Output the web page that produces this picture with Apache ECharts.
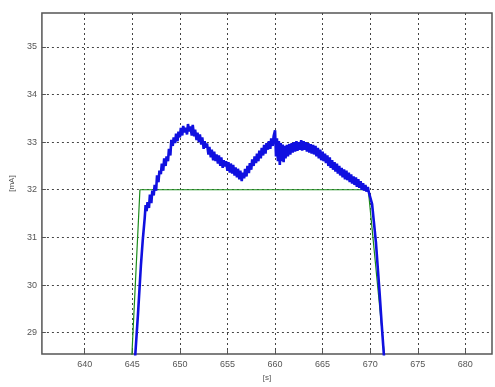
<!DOCTYPE html>
<html>
<head>
<meta charset="utf-8">
<script src="https://cdn.jsdelivr.net/npm/echarts@6/dist/echarts.min.js"></script>
<style>
html,body{margin:0;padding:0;background:#fff;}
#c{width:495px;height:387px;}
</style>
</head>
<body>
<div id="c"></div>
<script>
var xTicks = [640, 645, 650, 655, 660, 665, 670, 675, 680];
var yTicks = [29, 30, 31, 32, 33, 34, 35];
var xRange = [635.5, 682.8];
var yRange = [28.55, 35.71];

var greenLine = [[644.9, 28.3], [645.8, 32.0], [669.8, 32.0], [671.6, 28.3]];

var blueLine = [
[645.3, 28.5], [645.6, 29.4], [645.9, 30.4], [646.1, 30.95], [646.3, 31.4],
[646.4, 31.68], [646.5, 31.55], [646.6, 31.74], [646.75, 31.62], [646.85, 31.9], [647.0, 31.72], [647.1, 31.98], [647.25, 31.88],
[647.35, 32.1], [647.5, 31.98], [647.6, 32.3], [647.75, 32.16], [647.85, 32.4], [648.0, 32.33], [648.1, 32.55], [648.25, 32.4],
[648.35, 32.66], [648.5, 32.5], [648.6, 32.7], [648.75, 32.6], [648.85, 32.86], [649.0, 32.72], [649.1, 33.05], [649.25, 32.92],
[649.35, 33.1], [649.5, 32.98], [649.6, 33.18], [649.75, 33.02], [649.85, 33.22], [650.0, 33.1], [650.1, 33.3], [650.25, 33.14],
[650.35, 33.34], [650.5, 33.2], [650.6, 33.3], [650.75, 33.16], [650.85, 33.38], [651.0, 33.22], [651.1, 33.33], [651.25, 33.14],
[651.35, 33.36], [651.5, 33.12], [651.6, 33.26], [651.75, 33.04], [651.85, 33.2], [652.0, 33.0], [652.1, 33.16], [652.25, 32.95],
[652.35, 33.1], [652.5, 32.86], [652.6, 33.02], [652.75, 32.88], [652.85, 32.97], [653.0, 32.74], [653.1, 32.9], [653.25, 32.68],
[653.35, 32.84], [653.5, 32.62], [653.6, 32.8], [653.75, 32.6], [653.85, 32.74], [654.0, 32.55], [654.1, 32.72], [654.25, 32.5],
[654.35, 32.68], [654.5, 32.46], [654.6, 32.62], [654.75, 32.49], [654.85, 32.6], [655.0, 32.4], [655.1, 32.58], [655.25, 32.36],
[655.35, 32.55], [655.5, 32.34], [655.6, 32.52], [655.75, 32.3], [655.85, 32.47], [656.0, 32.26], [656.1, 32.44], [656.25, 32.22],
[656.35, 32.4], [656.5, 32.18], [656.6, 32.36], [656.75, 32.24], [656.85, 32.44], [657.0, 32.28], [657.1, 32.5], [657.25, 32.35],
[657.35, 32.56], [657.5, 32.42], [657.6, 32.64], [657.75, 32.5], [657.85, 32.7], [658.0, 32.56], [658.1, 32.76], [658.25, 32.6],
[658.35, 32.82], [658.5, 32.66], [658.6, 32.88], [658.75, 32.72], [658.85, 32.94], [659.0, 32.76], [659.1, 32.98], [659.25, 32.84],
[659.35, 33.02], [659.5, 32.86], [659.6, 33.08], [659.75, 32.92], [659.85, 33.12], [660.0, 33.25], [660.1, 32.7], [660.2, 33.08],
[660.3, 32.6], [660.4, 33.02], [660.5, 32.52], [660.6, 32.98], [660.7, 32.6], [660.8, 32.95], [660.9, 32.58], [661.0, 32.92],
[661.1, 32.66], [661.25, 32.94], [661.35, 32.7], [661.5, 32.96], [661.6, 32.74], [661.75, 32.98], [661.85, 32.78], [662.0, 33.0],
[662.1, 32.8], [662.25, 33.02], [662.35, 32.82], [662.5, 33.0], [662.6, 32.84], [662.75, 33.04], [662.85, 32.82], [663.0, 33.02],
[663.1, 32.84], [663.25, 33.0], [663.35, 32.8], [663.5, 32.98], [663.6, 32.78], [663.75, 32.96], [663.85, 32.76], [664.0, 32.94],
[664.1, 32.74], [664.25, 32.92], [664.35, 32.7], [664.5, 32.88], [664.6, 32.66], [664.75, 32.84], [664.85, 32.62], [665.0, 32.8],
[665.1, 32.6], [665.25, 32.76], [665.35, 32.56], [665.5, 32.72], [665.6, 32.5], [665.75, 32.68], [665.85, 32.46], [666.0, 32.62],
[666.1, 32.42], [666.25, 32.58], [666.35, 32.38], [666.5, 32.55], [666.6, 32.34], [666.75, 32.5], [666.85, 32.3], [667.0, 32.46],
[667.1, 32.26], [667.25, 32.43], [667.35, 32.22], [667.5, 32.4], [667.6, 32.2], [667.75, 32.36], [667.85, 32.16], [668.0, 32.32],
[668.1, 32.13], [668.25, 32.28], [668.35, 32.1], [668.5, 32.26], [668.6, 32.06], [668.75, 32.22], [668.85, 32.04], [669.0, 32.18],
[669.1, 32.0], [669.25, 32.14], [669.35, 31.98], [669.5, 32.1], [669.6, 31.96], [669.75, 32.06], [669.85, 31.95], [670.0, 31.96],
[670.2, 31.7], [670.4, 31.3], [670.6, 30.9], [670.8, 30.35], [671.0, 29.8], [671.2, 29.2], [671.45, 28.5]
];

var chart = echarts.init(document.getElementById('c'), null, {renderer: 'canvas'});
var gridLineStyle = {color: '#444', type: [2, 3], width: 1};
var labelStyle = {color: '#555', fontSize: 9, fontFamily: 'Liberation Sans'};
chart.setOption({
  animation: false,
  backgroundColor: '#fff',
  grid: {left: 36, top: 13, right: 3, bottom: 24, show: true, borderColor: '#555', borderWidth: 1.5, backgroundColor: '#fff'},
  xAxis: {
    type: 'value', min: xRange[0], max: xRange[1],
    name: '[s]', nameLocation: 'middle', nameGap: 14,
    nameTextStyle: {color: '#555', fontSize: 8, fontFamily: 'Liberation Sans'},
    axisLine: {show: false},
    axisTick: {show: true, inside: true, length: 4, customValues: xTicks, lineStyle: {color: '#555'}},
    axisLabel: {customValues: xTicks, margin: 6, ...labelStyle},
    splitLine: {show: true, lineStyle: gridLineStyle}
  },
  yAxis: {
    type: 'value', min: yRange[0], max: yRange[1],
    name: '[mA]', nameLocation: 'middle', nameGap: 22, nameRotate: 90,
    nameTextStyle: {color: '#555', fontSize: 8, fontFamily: 'Liberation Sans'},
    axisLine: {show: false},
    axisTick: {show: true, inside: true, length: 4, customValues: yTicks, lineStyle: {color: '#555'}},
    axisLabel: {customValues: yTicks, margin: 5, ...labelStyle},
    splitLine: {show: true, lineStyle: gridLineStyle}
  },
  series: [
    {type: 'line', data: greenLine, showSymbol: false, clip: true,
     lineStyle: {color: '#1a8a1a', width: 1.2}, z: 3},
    {type: 'line', data: blueLine, showSymbol: false, clip: true,
     lineStyle: {color: '#1010e0', width: 2.6}, z: 4}
  ]
});
</script>
</body>
</html>
